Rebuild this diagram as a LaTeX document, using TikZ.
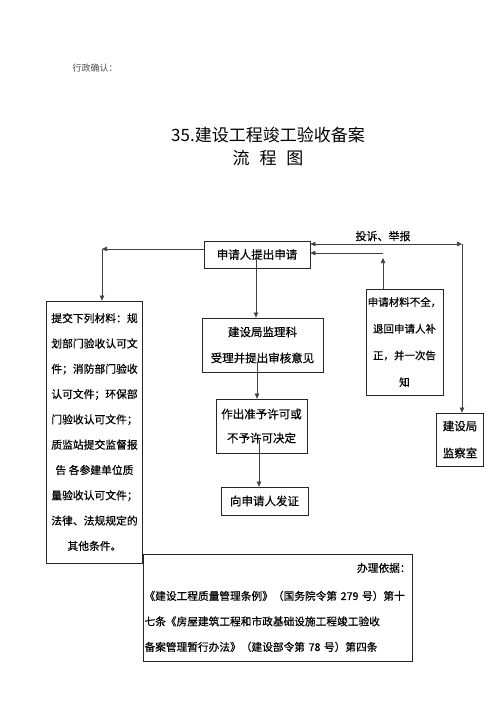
\documentclass[tikz,border=0pt]{standalone}
\usepackage{fontspec}
\setmainfont{Noto Sans CJK SC}[FakeBold=0.5]
\newfontfamily\titlefont{Noto Sans CJK SC}
\usetikzlibrary{arrows.meta}
\tikzset{
  box/.style={draw=black!85, line width=0.8pt, inner sep=0pt, align=center},
  arr/.style={draw=black!75, line width=0.6pt, -{Triangle[length=5pt,width=4.5pt]}},
  arrboth/.style={draw=black!75, line width=0.6pt, {Triangle[length=5pt,width=4.5pt]}-{Triangle[length=5pt,width=4.5pt]}},
  fs/.style 2 args={font=\fontsize{#1}{#2}\selectfont}
}
\begin{document}
\begin{tikzpicture}[x=1pt,y=-1pt]
\useasboundingbox (0,0) rectangle (500,708);
% header and title
\node[font=\titlefont\fontsize{9}{11}\selectfont, text=black!70] (hdr) at (95,68) {行政确认：};
\node[font=\titlefont\fontsize{17}{20}\selectfont] (title1) at (268,135) {35.建设工程竣工验收备案};
\node[font=\titlefont\fontsize{17}{20}\selectfont] (title2) at (268,158) {流\hspace{10pt}程\hspace{10pt}图};
% boxes
\node[box, minimum width=106pt, minimum height=27pt, fs={11.5}{14}] (app) at (257,254.5) {申请人提出申请};
\node[box, minimum width=121pt, minimum height=54pt, fs={11.5}{26}] (b2) at (262.5,345) {建设局监理科\\受理并提出审核意见};
\node[box, minimum width=91pt, minimum height=54pt, fs={11.5}{24}] (b3) at (261.5,426) {作出准予许可或\\不予许可决定};
\node[box, minimum width=87pt, minimum height=28pt, fs={11.5}{14}] (b4) at (264.5,501) {向申请人发证};
\node[box, minimum width=96pt, minimum height=262pt, fs={10.8}{25.3}] (lb) at (94.5,432) {提交下列材料：规\\划部门验收认可文\\件；消防部门验收\\认可文件；环保部\\门验收认可文件；\\质监站提交监督报\\告\ 各参建单位质\\量验收认可文件；\\法律、法规规定的\\其他条件。};
\node[box, minimum width=77pt, minimum height=106pt, fs={10.5}{26.7}] (rb) at (404.5,342) {申请材料不全，\\退回申请人补\\正，并一次告\\知};
\node[box, minimum width=47pt, minimum height=53pt, fs={11.5}{27}] (mon) at (460,439.5) {建设局\\监察室};
\node[box, minimum width=269pt, minimum height=107pt, text width=266pt, align=left, fs={10.7}{25.5}] (basis) at (277.5,607.5) {\hfill 办理依据：\\[2.5pt]《建设工程质量管理条例》（国务院令第~279~号）第十\\七条《房屋建筑工程和市政基础设施工程竣工验收\\备案管理暂行办法》（建设部令第~78~号）第四条};
\node[fs={11}{13}] (lbl) at (383,236) {投诉、举报};
% connectors
\coordinate (lk) at (102,249);
\draw[arr] (app.west |- lk) -- (lk);
\draw[arr] (lk) -- (lk |- lb.north);
\coordinate (rk) at (462,244);
\draw[arrboth] (app.east |- rk) -- (rk);
\draw[arr] (rk) -- (rk |- mon.north);
\coordinate (rk2) at (383,253);
\draw[arr] (rk2) -- (app.east |- rk2);
\coordinate (rk3) at (383,258);
\draw[arr] (rb.north -| rk3) -- (rk3);
\coordinate (v1) at (256,257);
\draw[arr] (v1) -- (v1 |- b2.north);
\coordinate (v2) at (257,362);
\draw[arr] (v2) -- (v2 |- b3.north);
\coordinate (v3) at (259,440);
\draw[arr] (v3) -- (v3 |- b4.north);
\end{tikzpicture}
\end{document}
